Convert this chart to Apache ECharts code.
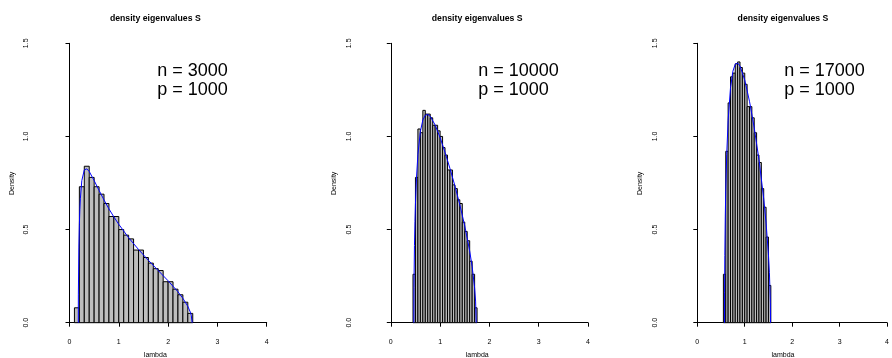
<!DOCTYPE html>
<html>
<head>
<meta charset="utf-8">
<script src="https://cdn.jsdelivr.net/npm/echarts@6/dist/echarts.min.js"></script>
<style>
html,body{margin:0;padding:0;background:#fff;}
#c{width:892px;height:358px;}
</style>
</head>
<body>
<div id="c"></div>
<script>
// ---- data ----
var titleText = 'density eigenvalues S';
var xTicks = [0, 1, 2, 3, 4];
var yTicks = [0.0, 0.5, 1.0, 1.5];
var nLabels = ['n = 3000', 'n = 10000', 'n = 17000'];
var pLabels = ['p = 1000', 'p = 1000', 'p = 1000'];

var p1Breaks = [0.1,0.2,0.3,0.4,0.5,0.6,0.7,0.8,0.9,1.0,1.1,1.2,1.3,1.4,1.5,1.6,1.7,1.8,1.9,2.0,2.1,2.2,2.3,2.4,2.5];
var p1Density = [0.08,0.73,0.84,0.78,0.73,0.69,0.64,0.57,0.57,0.50,0.47,0.45,0.39,0.39,0.35,0.32,0.29,0.28,0.22,0.22,0.18,0.15,0.11,0.05];

var p2Breaks = [0.45,0.5,0.55,0.6,0.65,0.7,0.75,0.8,0.85,0.9,0.95,1.0,1.05,1.1,1.15,1.2,1.25,1.3,1.35,1.4,1.45,1.5,1.55,1.6,1.65,1.7,1.75];
var p2Density = [0.26,0.78,1.04,1.02,1.14,1.12,1.12,1.10,1.06,1.06,1.03,1.00,0.94,0.90,0.82,0.82,0.74,0.72,0.66,0.64,0.54,0.49,0.44,0.33,0.26,0.08];

var p3Breaks = [0.55,0.6,0.65,0.7,0.75,0.8,0.85,0.9,0.95,1.0,1.05,1.1,1.15,1.2,1.25,1.3,1.35,1.4,1.45,1.5,1.55];
var p3Density = [0.26,0.92,1.18,1.32,1.34,1.39,1.40,1.37,1.34,1.28,1.16,1.16,1.10,1.02,0.90,0.86,0.72,0.62,0.46,0.20];

var p1CurveX = [0.1786,0.18,0.19,0.2,0.21,0.22,0.25,0.3,0.35,0.4,0.5,0.6,0.7,0.8,0.9,1.0,1.2,1.4,1.6,1.8,2.0,2.2,2.3,2.4,2.45,2.47,2.488];
var p1CurveY = [0,0.149,0.406,0.528,0.608,0.665,0.763,0.820,0.826,0.812,0.763,0.710,0.659,0.611,0.568,0.528,0.456,0.393,0.335,0.280,0.225,0.166,0.131,0.088,0.057,0.039,0];

var p2CurveX = [0.4675,0.47,0.48,0.49,0.5,0.52,0.55,0.6,0.65,0.7,0.75,0.8,0.9,1.0,1.1,1.2,1.3,1.4,1.5,1.6,1.65,1.7,1.72,1.7325];
var p2CurveY = [0,0.189,0.414,0.543,0.637,0.772,0.904,1.027,1.088,1.114,1.118,1.108,1.061,0.994,0.915,0.828,0.735,0.633,0.520,0.385,0.301,0.187,0.116,0];

var p3CurveX = [0.5738,0.575,0.58,0.59,0.6,0.62,0.65,0.7,0.75,0.8,0.85,0.9,1.0,1.1,1.2,1.3,1.4,1.45,1.5,1.52,1.54,1.5439];
var p3CurveY = [0,0.164,0.362,0.571,0.710,0.902,1.087,1.262,1.350,1.388,1.394,1.378,1.303,1.189,1.046,0.876,0.666,0.535,0.364,0.268,0.108,0];

// ---- layout ----
var panels = [
  {axisX: 36, x0: 69.5, titleX: 155.3, textX: 157.3, breaks: p1Breaks, dens: p1Density, cx: p1CurveX, cy: p1CurveY},
  {axisX: 358.3, x0: 390.8, titleX: 477.2, textX: 478.3, breaks: p2Breaks, dens: p2Density, cx: p2CurveX, cy: p2CurveY},
  {axisX: 664.3, x0: 697.3, titleX: 783.0, textX: 784.3, breaks: p3Breaks, dens: p3Density, cx: p3CurveX, cy: p3CurveY}
];
var unitX = 49.3;
var gridTop = 43.3, gridH = 279.4;
var FONT = '"Liberation Sans", Arial, Helvetica, sans-serif';

var grids = [], xAxes = [], yAxes = [], series = [], graphics = [];
panels.forEach(function (p, i) {
  grids.push({left: p.x0, top: gridTop, width: unitX * 4, height: gridH, containLabel: false});
  xAxes.push({
    type: 'value', gridIndex: i, min: xTicks[0], max: xTicks[xTicks.length - 1], interval: 1,
    position: 'bottom', offset: 11.3,
    axisLine: {show: true, lineStyle: {color: '#000', width: 1}},
    axisTick: {show: true, inside: false, length: 4, lineStyle: {color: '#000', width: 1}},
    axisLabel: {show: true, fontSize: 7, color: '#000', margin: 5, fontFamily: FONT},
    splitLine: {show: false}
  });
  yAxes.push({
    type: 'value', gridIndex: i, min: yTicks[0], max: yTicks[yTicks.length - 1], interval: 0.5,
    position: 'left', offset: p.x0 - p.axisX,
    axisLine: {show: true, lineStyle: {color: '#000', width: 1}},
    axisTick: {show: true, inside: false, length: 4, lineStyle: {color: '#000', width: 1}},
    axisLabel: {show: true, fontSize: 7, color: '#000', margin: 6, rotate: 90, fontFamily: FONT,
      formatter: function (v) { return v.toFixed(1); }},
    splitLine: {show: false}
  });
  var bars = [];
  for (var k = 0; k < p.dens.length; k++) bars.push([p.breaks[k], p.breaks[k + 1], p.dens[k]]);
  series.push({
    type: 'custom', xAxisIndex: i, yAxisIndex: i, data: bars, silent: true,
    encode: {x: [0, 1], y: 2},
    renderItem: function (params, api) {
      var a = api.coord([api.value(0), api.value(2)]);
      var b = api.coord([api.value(1), 0]);
      return {type: 'rect', shape: {x: a[0], y: a[1], width: b[0] - a[0], height: b[1] - a[1]},
        style: {fill: '#bebebe', stroke: '#000', lineWidth: 1}};
    }
  });
  var line = [];
  for (var j = 0; j < p.cx.length; j++) line.push([p.cx[j], p.cy[j]]);
  series.push({
    type: 'line', xAxisIndex: i, yAxisIndex: i, data: line, showSymbol: false, smooth: false,
    lineStyle: {color: '#0000ff', width: 1}, z: 5, silent: true
  });
  graphics.push({type: 'text', x: p.titleX, y: 19, style: {text: titleText, textAlign: 'center', textVerticalAlign: 'middle', font: 'bold 8.7px ' + FONT, fill: '#000'}});
  graphics.push({type: 'text', x: p.titleX, y: 355, style: {text: 'lambda', textAlign: 'center', textVerticalAlign: 'middle', font: '7px ' + FONT, fill: '#000'}});
  graphics.push({type: 'text', x: p.axisX - 24, y: 183.3, rotation: Math.PI / 2, style: {text: 'Density', textAlign: 'center', textVerticalAlign: 'middle', font: '7px ' + FONT, fill: '#000'}});
  graphics.push({type: 'text', x: p.textX, y: 70.9, style: {text: nLabels[i], textAlign: 'left', textVerticalAlign: 'middle', font: '18px ' + FONT, fill: '#000'}});
  graphics.push({type: 'text', x: p.textX, y: 90.3, style: {text: pLabels[i], textAlign: 'left', textVerticalAlign: 'middle', font: '18px ' + FONT, fill: '#000'}});
});

var chart = echarts.init(document.getElementById('c'), null, {renderer: 'canvas'});
chart.setOption({
  animation: false,
  backgroundColor: '#fff',
  grid: grids, xAxis: xAxes, yAxis: yAxes, series: series,
  graphic: graphics
});
</script>
</body>
</html>
